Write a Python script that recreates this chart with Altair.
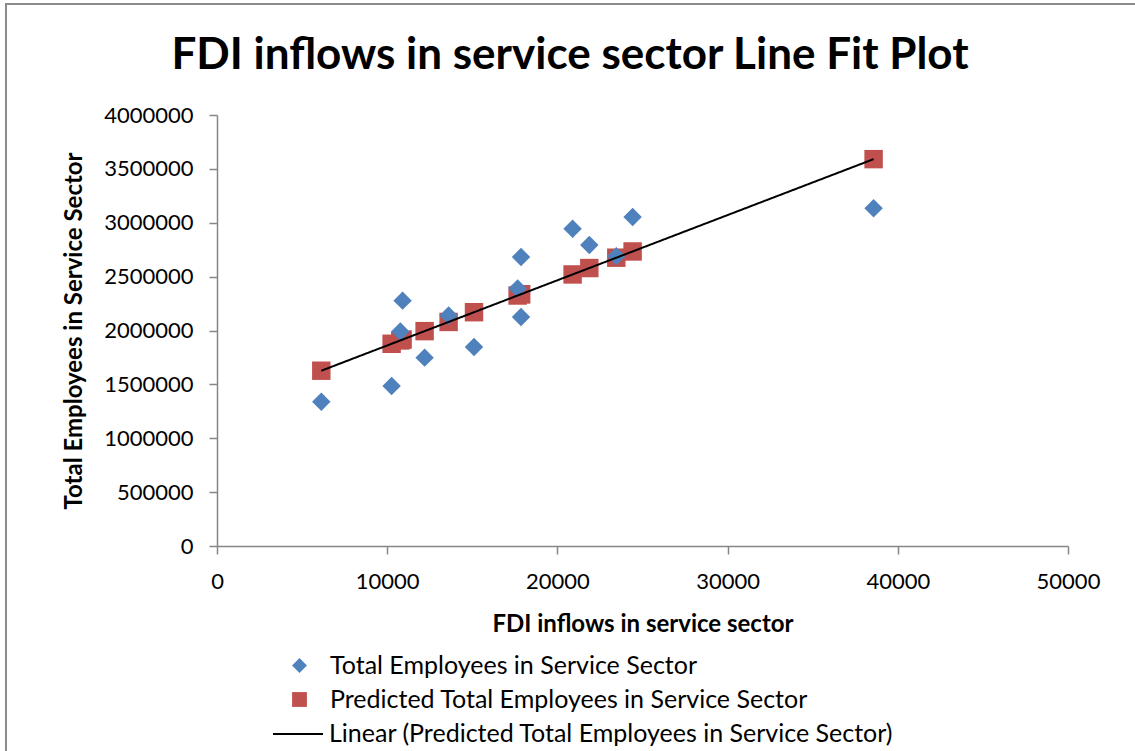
import altair as alt
import pandas as pd

# Data
fdi = [6128, 10259, 10770, 10905, 12198, 13608, 15100, 17662, 17862, 17862,
       20893, 21875, 23461, 24419, 38578]
employees = [1339000, 1485000, 1990000, 2277000, 1748000, 2140000, 1847000, 2390000,
             2682000, 2125000, 2945000, 2794000, 2690000, 3053000, 3134000]
predicted = [1626800, 1876800, 1907700, 1915900, 1994100, 2079400, 2169700, 2324700,
             2336800, 2336800, 2520200, 2579600, 2675600, 2733600, 3590400]

series_names = ["Total Employees in Service Sector", "Predicted Total Employees in Service Sector"]
trend_name = "Linear (Predicted Total Employees in Service Sector)"
chart_title = "FDI inflows in service sector Line Fit  Plot"
x_ticks = [0, 10000, 20000, 30000, 40000, 50000]
y_ticks = [0, 500000, 1000000, 1500000, 2000000, 2500000, 3000000, 3500000, 4000000]

BLUE = "#4F81BD"
RED = "#C0504D"
FONT = "Lato"

rows = []
for x, a in zip(fdi, employees):
    rows.append({"fdi": x, "value": a, "series": series_names[0]})
for x, p in zip(fdi, predicted):
    rows.append({"fdi": x, "value": p, "series": series_names[1]})
pts = pd.DataFrame(rows)
trend = pd.DataFrame({"fdi": fdi, "value": predicted, "trend": [trend_name] * len(fdi)})

xscale = alt.Scale(domain=[0, 50000], nice=False, zero=True)
yscale = alt.Scale(domain=[0, 4000000], nice=False)

xenc = alt.X("fdi:Q", scale=xscale,
             axis=alt.Axis(title="FDI inflows in service sector", values=x_ticks, format="d",
                           titlePadding=20, labelFlush=False, labelPadding=17))
yenc = alt.Y("value:Q", scale=yscale,
             axis=alt.Axis(title="Total Employees in Service Sector", values=y_ticks, format="d",
                           titlePadding=17, labelPadding=16))

leg1 = dict(title=None, orient="none", legendX=70, legendY=538, symbolSize=220,
            labelFontSize=25, labelFont=FONT, labelColor="black", rowPadding=8,
            labelOffset=18, labelLimit=0)

points = alt.Chart(pts).mark_point(filled=True, size=340, opacity=1).encode(
    x=xenc,
    y=yenc,
    color=alt.Color("series:N", scale=alt.Scale(domain=series_names, range=[BLUE, RED]),
                    legend=alt.Legend(**leg1)),
    shape=alt.Shape("series:N", scale=alt.Scale(domain=series_names, range=["diamond", "square"]),
                    legend=alt.Legend(**leg1)),
    order=alt.Order("series:N"),
)

line = alt.Chart(trend).mark_line(color="black", strokeWidth=2).encode(
    x=alt.X("fdi:Q", scale=xscale),
    y=alt.Y("value:Q", scale=yscale),
    strokeDash=alt.StrokeDash("trend:N", scale=alt.Scale(domain=[trend_name], range=[[1, 0]]),
                              legend=alt.Legend(title=None, orient="none", legendX=55, legendY=593,
                                                symbolSize=2500, symbolStrokeColor="black",
                                                symbolStrokeWidth=2, labelFontSize=25,
                                                labelFont=FONT, labelColor="black",
                                                labelOffset=5, labelLimit=0)),
)

frame = alt.Chart(pd.DataFrame({"k": [0]})).mark_rect(
    fill="white", fillOpacity=0, stroke="#8c8c8c", strokeWidth=2
).encode(x=alt.value(-211), x2=alt.value(930), y=alt.value(-111), y2=alt.value(650))

title = alt.Chart(pd.DataFrame({"t": [chart_title]})).mark_text(
    font=FONT, fontSize=44, fontWeight="bold", color="black", align="center", baseline="middle"
).encode(text="t:N", x=alt.value(353), y=alt.value(-59))

chart = alt.layer(frame, title, points, line).properties(
    width=851, height=431,
    autosize=alt.AutoSizeParams(type="none"),
    padding={"left": 217, "top": 115, "right": 67, "bottom": 205},
    background="white",
).configure_view(stroke=None).configure_axis(
    grid=False, domainColor="#868686", tickColor="#868686", domainWidth=1.5, tickWidth=1.5,
    tickSize=8, labelFont=FONT, labelFontSize=22, labelColor="black", titleFont=FONT,
    titleFontSize=24, titleFontWeight="bold", titleColor="black",
)

chart.save("out.html", embed_options={"renderer": "svg", "actions": False})
